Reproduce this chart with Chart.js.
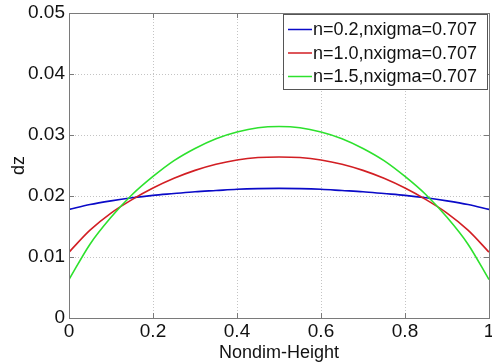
<!DOCTYPE html>
<html>
<head>
<meta charset="utf-8">
<script src="https://cdn.jsdelivr.net/npm/chart.js@4.4.1/dist/chart.umd.min.js"></script>
<style>
  html, body { margin: 0; padding: 0; background: #fff; }
  #wrap { width: 492px; height: 364px; }
</style>
</head>
<body>
<div id="wrap"><canvas id="c" width="492" height="364"></canvas></div>
<script>
// nondimensional height (x axis)
const heights = [0, 0.05, 0.1, 0.15, 0.2, 0.25, 0.3, 0.35, 0.4, 0.45, 0.5,
                 0.55, 0.6, 0.65, 0.7, 0.75, 0.8, 0.85, 0.9, 0.95, 1];

// dz values
const dzN02 = [0.0178, 0.0186, 0.0192, 0.0197, 0.0201, 0.0204, 0.0207, 0.0209, 0.0211, 0.02121, 0.02125,
               0.02121, 0.0211, 0.0209, 0.0207, 0.0204, 0.0201, 0.0197, 0.0192, 0.0186, 0.0178];
const dzN10 = [0.0108, 0.0144, 0.0172, 0.0194, 0.0213, 0.0229, 0.0242, 0.0252, 0.0259, 0.0263, 0.0264,
               0.0263, 0.0259, 0.0252, 0.0242, 0.0229, 0.0213, 0.0194, 0.0172, 0.0144, 0.0108];
const dzN15 = [0.0063, 0.0121, 0.0165, 0.0202, 0.0232, 0.0258, 0.0278, 0.0294, 0.0305, 0.0312, 0.0314,
               0.0312, 0.0305, 0.0294, 0.0278, 0.0258, 0.0232, 0.0202, 0.0165, 0.0121, 0.0063];

const seriesLabels = ['n=0.2,nxigma=0.707', 'n=1.0,nxigma=0.707', 'n=1.5,nxigma=0.707'];
const seriesColors = ['rgb(10,10,200)', 'rgb(210,30,35)', 'rgb(45,225,45)'];

const xTicks = [0, 0.2, 0.4, 0.6, 0.8, 1];
const yTicks = [0, 0.01, 0.02, 0.03, 0.04, 0.05];

const FONT = "'Liberation Sans', Arial, Helvetica, sans-serif";

function toPoints(ys) {
    return heights.map((h, i) => ({ x: h, y: ys[i] }));
}

// MATLAB-like box, inward ticks and legend
const matlabBox = {
    id: 'matlabBox',
    afterDraw(chart) {
        const ctx = chart.ctx;
        const a = chart.chartArea;
        const xs = chart.scales.x;
        const ys = chart.scales.y;
        ctx.save();
        ctx.strokeStyle = '#7a7a7a';
        ctx.lineWidth = 1;
        ctx.strokeRect(Math.round(a.left) + 0.5, Math.round(a.top) + 0.5,
                       Math.round(a.right - a.left), Math.round(a.bottom - a.top));

        // inward tick marks on all four sides
        const tl = 5;
        ctx.beginPath();
        xTicks.forEach(v => {
            const px = Math.round(xs.getPixelForValue(v)) + 0.5;
            ctx.moveTo(px, a.bottom); ctx.lineTo(px, a.bottom - tl);
            ctx.moveTo(px, a.top); ctx.lineTo(px, a.top + tl);
        });
        yTicks.forEach(v => {
            const py = Math.round(ys.getPixelForValue(v)) + 0.5;
            ctx.moveTo(a.left, py); ctx.lineTo(a.left + tl, py);
            ctx.moveTo(a.right, py); ctx.lineTo(a.right - tl, py);
        });
        ctx.stroke();

        // legend box
        const bx = 283.5, by = 14.5, bw = 204, bh = 75;
        ctx.fillStyle = '#fff';
        ctx.fillRect(bx, by, bw, bh);
        ctx.strokeStyle = '#555';
        ctx.strokeRect(bx, by, bw, bh);
        ctx.font = '18px ' + FONT;
        ctx.textBaseline = 'middle';
        ctx.textAlign = 'left';
        seriesLabels.forEach((lab, i) => {
            const cy = 29.5 + i * 23.5;
            ctx.strokeStyle = seriesColors[i];
            ctx.lineWidth = 1.5;
            ctx.beginPath();
            ctx.moveTo(288, cy); ctx.lineTo(312, cy);
            ctx.stroke();
            ctx.fillStyle = '#111';
            ctx.fillText(lab, 313, cy + 1);
        });
        ctx.restore();
    }
};

const ctx = document.getElementById('c').getContext('2d');
new Chart(ctx, {
    type: 'line',
    data: {
        datasets: [
            { label: seriesLabels[0], data: toPoints(dzN02), borderColor: seriesColors[0], order: 2 },
            { label: seriesLabels[1], data: toPoints(dzN10), borderColor: seriesColors[1], order: 1 },
            { label: seriesLabels[2], data: toPoints(dzN15), borderColor: seriesColors[2], order: 0 }
        ]
    },
    options: {
        responsive: false,
        animation: false,
        elements: {
            point: { radius: 0 },
            line: { borderWidth: 1.6, cubicInterpolationMode: 'monotone', fill: false }
        },
        layout: { padding: { top: 13, right: 3, left: 0, bottom: 0 } },
        plugins: {
            legend: { display: false },
            tooltip: { enabled: false }
        },
        scales: {
            x: {
                type: 'linear',
                min: 0,
                max: 1,
                afterBuildTicks(scale) { scale.ticks = xTicks.map(v => ({ value: v })); },
                afterFit(scale) {
                    scale.height = 46;
                    scale.paddingLeft = 0;
                    scale.paddingRight = 0;
                },
                ticks: {
                    padding: 2,
                    color: '#111',
                    font: { family: FONT, size: 19 },
                    callback: v => String(Number(v.toFixed(1)))
                },
                grid: { color: '#c4c4c4', drawTicks: false },
                border: { display: false, dash: [1, 2] },
                title: {
                    display: true,
                    text: 'Nondim-Height',
                    color: '#111',
                    font: { family: FONT, size: 18 },
                    padding: { top: 0, bottom: 0 }
                }
            },
            y: {
                min: 0,
                max: 0.05,
                afterBuildTicks(scale) { scale.ticks = yTicks.map(v => ({ value: v })); },
                afterFit(scale) {
                    scale.width = 69;
                    scale.paddingTop = 0;
                    scale.paddingBottom = 0;
                },
                ticks: {
                    padding: 4,
                    color: '#111',
                    font: { family: FONT, size: 19 },
                    callback: v => (v === 0 ? '0' : v.toFixed(2))
                },
                grid: { color: '#c4c4c4', drawTicks: false },
                border: { display: false, dash: [1, 2] },
                title: {
                    display: true,
                    text: 'dz',
                    color: '#111',
                    font: { family: FONT, size: 18 },
                    padding: { top: 8, bottom: 0 }
                }
            }
        }
    },
    plugins: [matlabBox]
});
</script>
</body>
</html>
